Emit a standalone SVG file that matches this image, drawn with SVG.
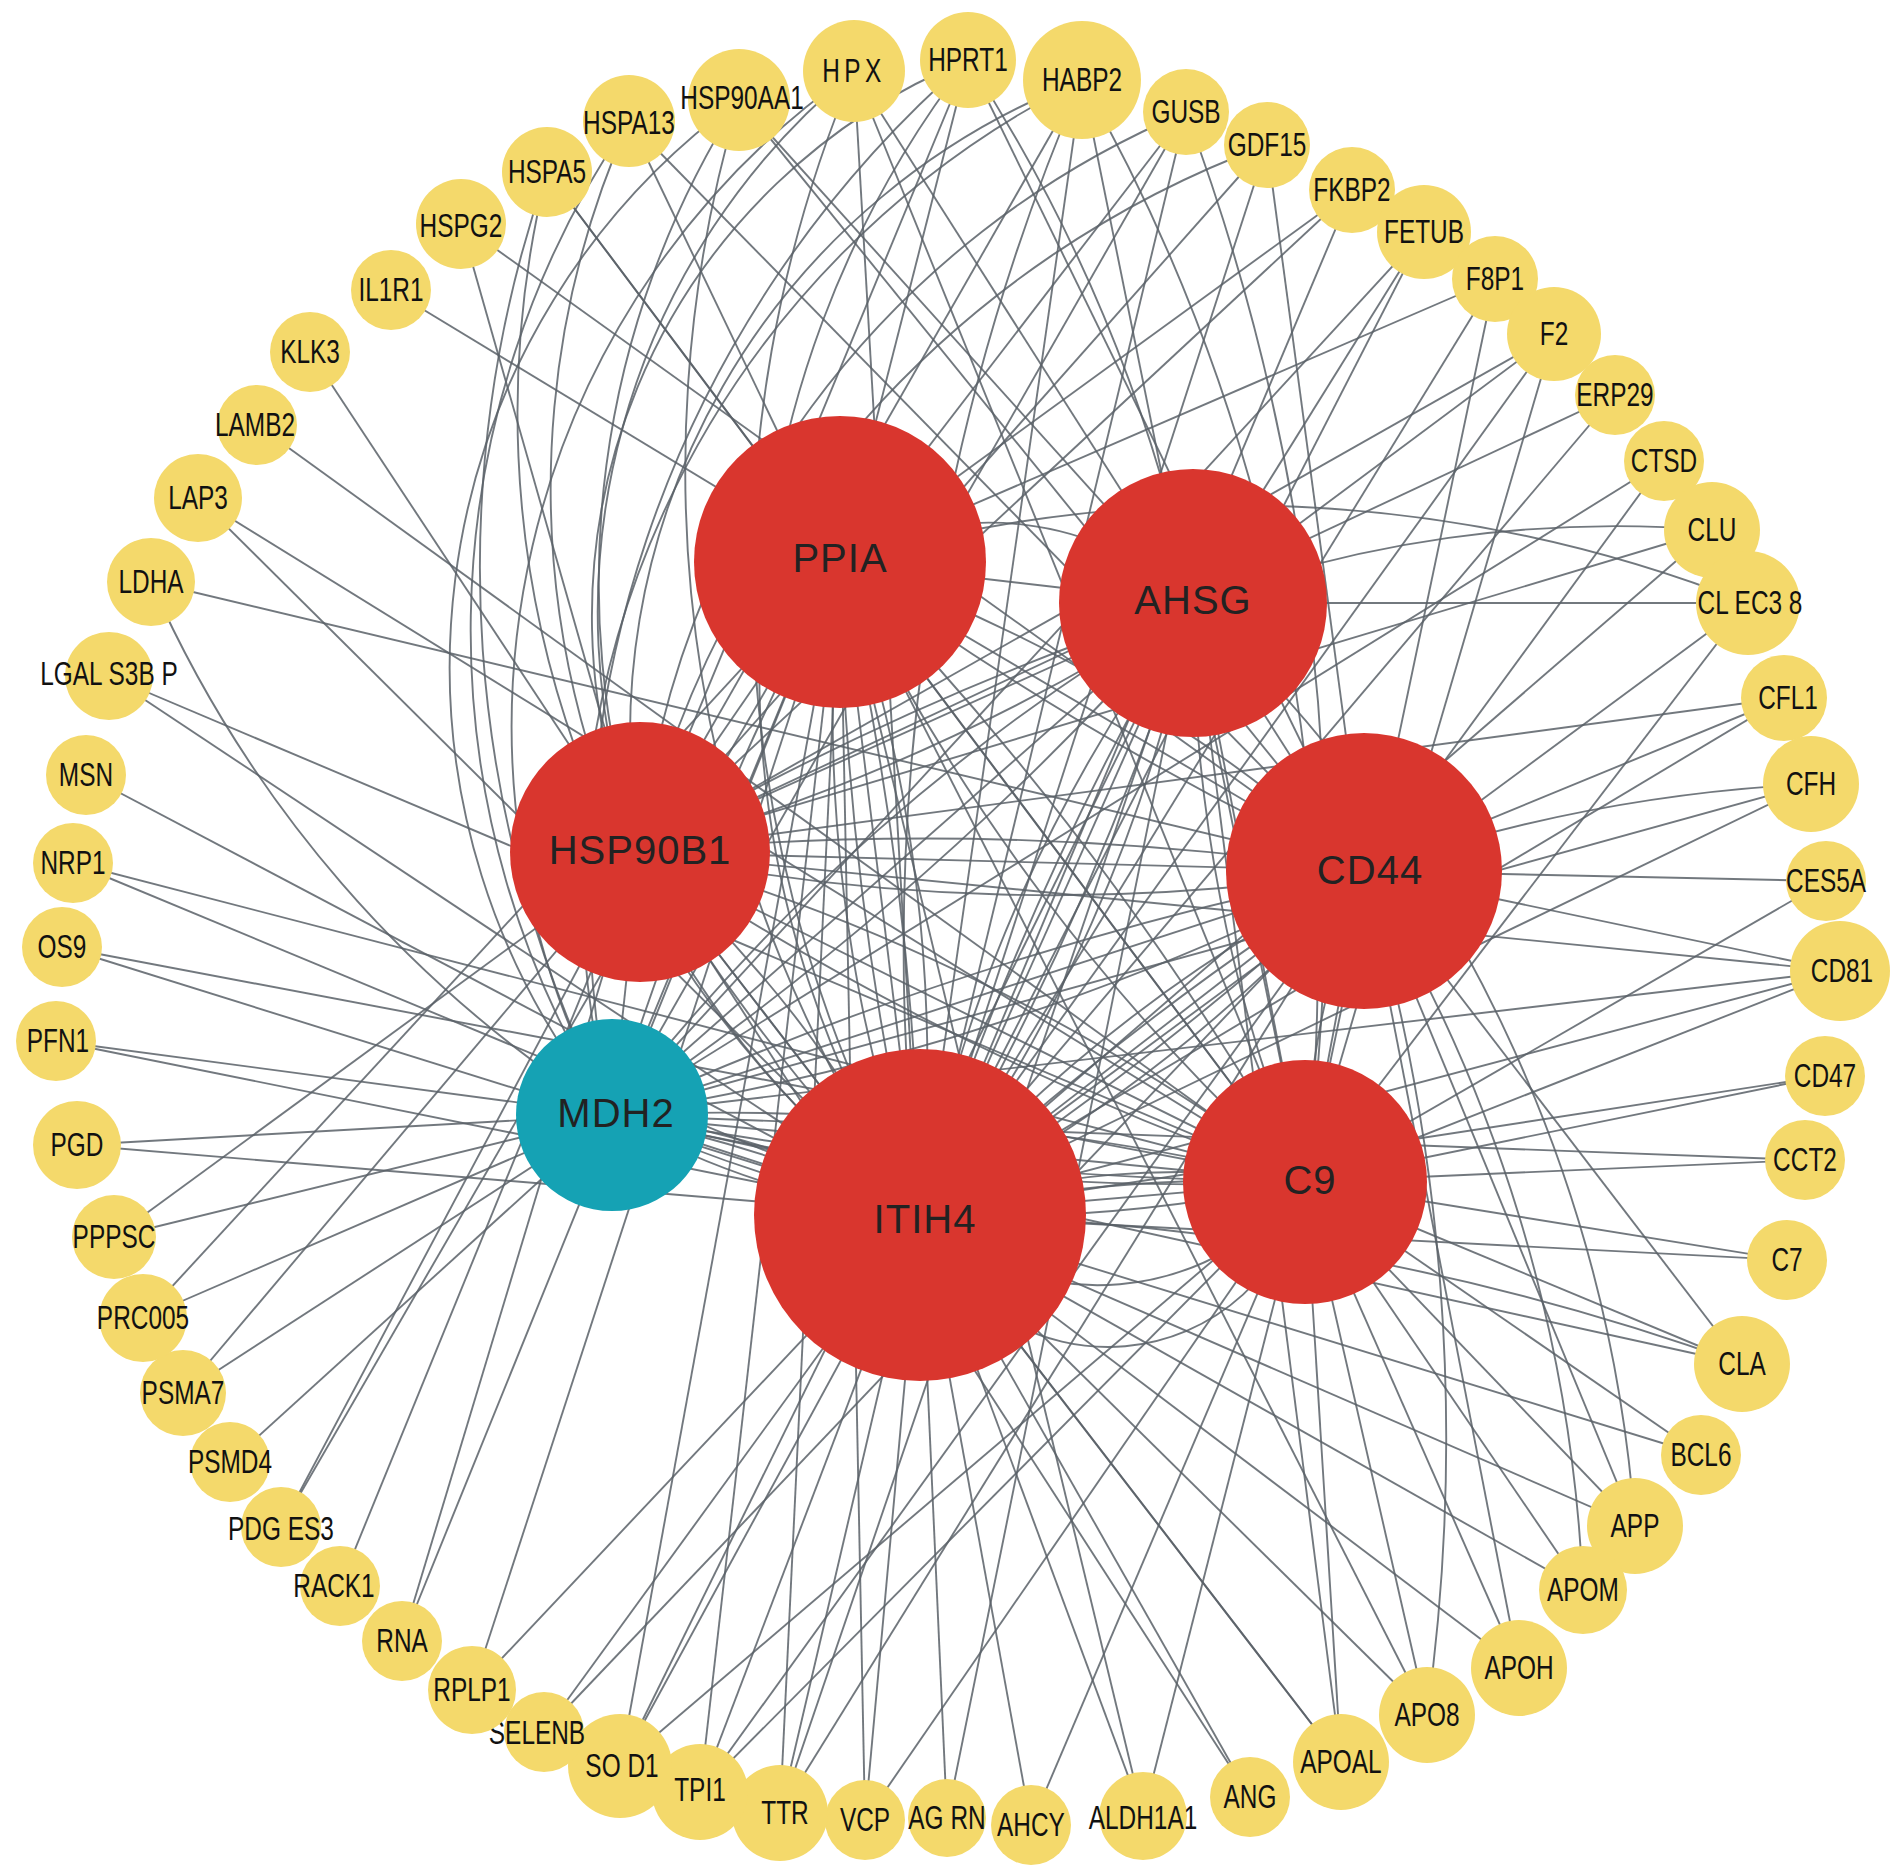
<svg xmlns="http://www.w3.org/2000/svg" width="1896" height="1871" viewBox="0 0 1896 1871">
<style>
.e{fill:none;stroke:#596067;stroke-width:1.9;stroke-opacity:0.85}
.y{fill:#F4D96B}
.r{fill:#D9362E}
.t{fill:#15A2B4}
.s{font-family:"Liberation Sans",Arial,sans-serif;font-size:33px;fill:#111;text-anchor:middle;dominant-baseline:central;transform-box:fill-box;transform-origin:center;transform:scaleX(0.74)}
.b{font-family:"Liberation Sans",Arial,sans-serif;font-size:40px;fill:#222;text-anchor:middle;dominant-baseline:central;letter-spacing:1px}
</style>
<rect width="1896" height="1871" fill="#fff"/>
<g id="connectors">
<path class="e" d="M739 100 A700 700 0 0 0 612 1115"/>
<path class="e" d="M854 71 A800 800 0 0 0 612 1115"/>
<path class="e" d="M968 60 A600 600 0 0 0 640 852"/>
<path class="e" d="M1082 80 A700 700 0 0 0 640 852"/>
<path class="e" d="M629 121 A900 900 0 0 0 920 1215"/>
<path class="e" d="M854 71 A700 700 0 0 0 640 852"/>
<path class="e" d="M739 100 A900 900 0 0 0 640 852"/>
<path class="e" d="M1082 80 A900 900 0 0 0 612 1115"/>
<path class="e" d="M1186 112 A900 900 0 0 0 640 852"/>
<path class="e" d="M968 60 A1000 1000 0 0 0 920 1215"/>
<path class="e" d="M547 172 A1000 1000 0 0 0 920 1215"/>
<path class="e" d="M968 60 A1100 1100 0 0 0 612 1115"/>
<path class="e" d="M1267 145 A1000 1000 0 0 0 640 852"/>
<path class="e" d="M629 121 A900 900 0 0 0 612 1115"/>
<path class="e" d="M547 172 A1200 1200 0 0 0 612 1115"/>
<path class="e" d="M854 71 A1300 1300 0 0 0 920 1215"/>
<path class="e" d="M739 100 A1300 1300 0 0 0 920 1215"/>
<path class="e" d="M1082 80 A1800 1800 0 0 1 1305 1182"/>
<path class="e" d="M1186 112 A2200 2200 0 0 1 1305 1182"/>
<path class="e" d="M968 60 A1600 1600 0 0 1 1193 603"/>
<path class="e" d="M1082 80 A2200 2200 0 0 0 920 1215"/>
<path class="e" d="M461 224 L640 852"/>
<path class="e" d="M461 224 L1364 871"/>
<path class="e" d="M547 172 L840 562"/>
<path class="e" d="M547 172 L1305 1182"/>
<path class="e" d="M629 121 L840 562"/>
<path class="e" d="M629 121 L1364 871"/>
<path class="e" d="M739 100 L1364 871"/>
<path class="e" d="M739 100 L1193 603"/>
<path class="e" d="M854 71 L920 1215"/>
<path class="e" d="M854 71 L1193 603"/>
<path class="e" d="M854 71 L1305 1182"/>
<path class="e" d="M968 60 L840 562"/>
<path class="e" d="M968 60 L1364 871"/>
<path class="e" d="M968 60 L640 852"/>
<path class="e" d="M1082 80 L920 1215"/>
<path class="e" d="M1082 80 L640 852"/>
<path class="e" d="M1082 80 L1305 1182"/>
<path class="e" d="M1186 112 L920 1215"/>
<path class="e" d="M1186 112 L840 562"/>
<path class="e" d="M1186 112 L612 1115"/>
<path class="e" d="M1267 145 L920 1215"/>
<path class="e" d="M1267 145 L640 852"/>
<path class="e" d="M1267 145 L1364 871"/>
<path class="e" d="M1352 190 L840 562"/>
<path class="e" d="M1352 190 L640 852"/>
<path class="e" d="M1352 190 L920 1215"/>
<path class="e" d="M1424 232 L1193 603"/>
<path class="e" d="M1424 232 L920 1215"/>
<path class="e" d="M1424 232 L612 1115"/>
<path class="e" d="M1495 279 L920 1215"/>
<path class="e" d="M1495 279 L1305 1182"/>
<path class="e" d="M1495 279 L840 562"/>
<path class="e" d="M1554 334 L920 1215"/>
<path class="e" d="M1554 334 L1305 1182"/>
<path class="e" d="M1554 334 L1193 603"/>
<path class="e" d="M1554 334 L640 852"/>
<path class="e" d="M1615 395 L640 852"/>
<path class="e" d="M1615 395 L920 1215"/>
<path class="e" d="M1664 461 L612 1115"/>
<path class="e" d="M1664 461 L1364 871"/>
<path class="e" d="M1712 530 A1200 1200 0 0 0 1193 603"/>
<path class="e" d="M1712 530 L920 1215"/>
<path class="e" d="M1712 530 L640 852"/>
<path class="e" d="M1748 603 L1193 603"/>
<path class="e" d="M1748 603 L920 1215"/>
<path class="e" d="M1748 603 A1400 1400 0 0 0 840 562"/>
<path class="e" d="M1748 603 L1305 1182"/>
<path class="e" d="M1784 698 L1364 871"/>
<path class="e" d="M1784 698 L920 1215"/>
<path class="e" d="M1784 698 L640 852"/>
<path class="e" d="M1811 784 A1600 1600 0 0 0 1364 871"/>
<path class="e" d="M1811 784 L920 1215"/>
<path class="e" d="M1811 784 L612 1115"/>
<path class="e" d="M1826 881 L1364 871"/>
<path class="e" d="M1826 881 L1305 1182"/>
<path class="e" d="M1840 971 L1305 1182"/>
<path class="e" d="M1840 971 L920 1215"/>
<path class="e" d="M1840 971 L1364 871"/>
<path class="e" d="M1840 971 L612 1115"/>
<path class="e" d="M1840 971 L640 852"/>
<path class="e" d="M1825 1076 L1305 1182"/>
<path class="e" d="M1825 1076 L920 1215"/>
<path class="e" d="M1805 1160 L1305 1182"/>
<path class="e" d="M1805 1160 L612 1115"/>
<path class="e" d="M1787 1260 L1305 1182"/>
<path class="e" d="M1787 1260 L920 1215"/>
<path class="e" d="M1742 1364 L1305 1182"/>
<path class="e" d="M1742 1364 A2500 2500 0 0 0 920 1215"/>
<path class="e" d="M1742 1364 L612 1115"/>
<path class="e" d="M1742 1364 L1364 871"/>
<path class="e" d="M1701 1455 L1305 1182"/>
<path class="e" d="M1701 1455 L920 1215"/>
<path class="e" d="M1635 1526 L1305 1182"/>
<path class="e" d="M1635 1526 L920 1215"/>
<path class="e" d="M1635 1526 A1400 1400 0 0 0 1193 603"/>
<path class="e" d="M1635 1526 L1364 871"/>
<path class="e" d="M1583 1590 L1305 1182"/>
<path class="e" d="M1583 1590 A1500 1500 0 0 0 1364 871"/>
<path class="e" d="M1583 1590 L920 1215"/>
<path class="e" d="M1519 1668 L1305 1182"/>
<path class="e" d="M1519 1668 L1364 871"/>
<path class="e" d="M1519 1668 L920 1215"/>
<path class="e" d="M1427 1715 L1305 1182"/>
<path class="e" d="M1427 1715 L920 1215"/>
<path class="e" d="M1427 1715 A2000 2000 0 0 0 1364 871"/>
<path class="e" d="M1427 1715 L840 562"/>
<path class="e" d="M1341 1762 L1305 1182"/>
<path class="e" d="M1341 1762 L920 1215"/>
<path class="e" d="M1341 1762 L1193 603"/>
<path class="e" d="M1341 1762 L640 852"/>
<path class="e" d="M1250 1797 L920 1215"/>
<path class="e" d="M1250 1797 L640 852"/>
<path class="e" d="M1143 1816 L920 1215"/>
<path class="e" d="M1143 1816 L1305 1182"/>
<path class="e" d="M1143 1816 L840 562"/>
<path class="e" d="M1031 1825 L920 1215"/>
<path class="e" d="M1031 1825 L1305 1182"/>
<path class="e" d="M947 1818 L920 1215"/>
<path class="e" d="M947 1818 L1193 603"/>
<path class="e" d="M865 1820 L920 1215"/>
<path class="e" d="M865 1820 L1305 1182"/>
<path class="e" d="M865 1820 L840 562"/>
<path class="e" d="M780 1813 L840 562"/>
<path class="e" d="M780 1813 L920 1215"/>
<path class="e" d="M780 1813 L1193 603"/>
<path class="e" d="M780 1813 L1364 871"/>
<path class="e" d="M700 1792 L920 1215"/>
<path class="e" d="M700 1792 L840 562"/>
<path class="e" d="M700 1792 L1364 871"/>
<path class="e" d="M700 1792 L1305 1182"/>
<path class="e" d="M620 1766 L920 1215"/>
<path class="e" d="M620 1766 L1305 1182"/>
<path class="e" d="M620 1766 L1193 603"/>
<path class="e" d="M620 1766 L840 562"/>
<path class="e" d="M544 1732 L920 1215"/>
<path class="e" d="M544 1732 L1364 871"/>
<path class="e" d="M472 1690 L920 1215"/>
<path class="e" d="M472 1690 L840 562"/>
<path class="e" d="M402 1641 L840 562"/>
<path class="e" d="M402 1641 L640 852"/>
<path class="e" d="M340 1586 L640 852"/>
<path class="e" d="M281 1527 L640 852"/>
<path class="e" d="M281 1527 L840 562"/>
<path class="e" d="M230 1462 L612 1115"/>
<path class="e" d="M183 1393 L612 1115"/>
<path class="e" d="M183 1393 L640 852"/>
<path class="e" d="M143 1318 L612 1115"/>
<path class="e" d="M143 1318 L840 562"/>
<path class="e" d="M114 1237 L612 1115"/>
<path class="e" d="M114 1237 L640 852"/>
<path class="e" d="M77 1145 L612 1115"/>
<path class="e" d="M77 1145 L920 1215"/>
<path class="e" d="M56 1041 L612 1115"/>
<path class="e" d="M56 1041 L920 1215"/>
<path class="e" d="M62 947 L920 1215"/>
<path class="e" d="M62 947 L1305 1182"/>
<path class="e" d="M73 863 L1305 1182"/>
<path class="e" d="M73 863 L920 1215"/>
<path class="e" d="M86 775 L920 1215"/>
<path class="e" d="M109 676 L920 1215"/>
<path class="e" d="M109 676 L1305 1182"/>
<path class="e" d="M151 582 L1364 871"/>
<path class="e" d="M151 582 A1200 1200 0 0 0 612 1115"/>
<path class="e" d="M198 498 L920 1215"/>
<path class="e" d="M198 498 L1305 1182"/>
<path class="e" d="M257 425 L1305 1182"/>
<path class="e" d="M310 352 L640 852"/>
<path class="e" d="M391 290 L840 562"/>
<path class="e" d="M840 562 L1193 603"/>
<path class="e" d="M840 562 A300 300 0 0 1 1193 603"/>
<path class="e" d="M840 562 L640 852"/>
<path class="e" d="M840 562 L1364 871"/>
<path class="e" d="M840 562 A1500 1500 0 0 1 1364 871"/>
<path class="e" d="M840 562 A3000 3000 0 0 0 1364 871"/>
<path class="e" d="M840 562 L920 1215"/>
<path class="e" d="M840 562 A1500 1500 0 0 0 920 1215"/>
<path class="e" d="M840 562 A1500 1500 0 0 1 920 1215"/>
<path class="e" d="M840 562 A3000 3000 0 0 0 920 1215"/>
<path class="e" d="M840 562 A3000 3000 0 0 1 920 1215"/>
<path class="e" d="M840 562 L1305 1182"/>
<path class="e" d="M840 562 A2000 2000 0 0 0 1305 1182"/>
<path class="e" d="M840 562 A3000 3000 0 0 1 1305 1182"/>
<path class="e" d="M840 562 L612 1115"/>
<path class="e" d="M840 562 A3000 3000 0 0 0 612 1115"/>
<path class="e" d="M1193 603 L1364 871"/>
<path class="e" d="M1193 603 L920 1215"/>
<path class="e" d="M1193 603 A1500 1500 0 0 0 920 1215"/>
<path class="e" d="M1193 603 A1500 1500 0 0 1 920 1215"/>
<path class="e" d="M1193 603 A3000 3000 0 0 0 920 1215"/>
<path class="e" d="M1193 603 A3000 3000 0 0 1 920 1215"/>
<path class="e" d="M1193 603 L1305 1182"/>
<path class="e" d="M1193 603 A1500 1500 0 0 0 1305 1182"/>
<path class="e" d="M1193 603 L640 852"/>
<path class="e" d="M1193 603 A2000 2000 0 0 1 640 852"/>
<path class="e" d="M1193 603 A3000 3000 0 0 0 640 852"/>
<path class="e" d="M1193 603 L612 1115"/>
<path class="e" d="M1193 603 A2000 2000 0 0 0 612 1115"/>
<path class="e" d="M1193 603 A3000 3000 0 0 1 612 1115"/>
<path class="e" d="M640 852 L1364 871"/>
<path class="e" d="M640 852 A2000 2000 0 0 0 1364 871"/>
<path class="e" d="M640 852 A3000 3000 0 0 1 1364 871"/>
<path class="e" d="M640 852 L920 1215"/>
<path class="e" d="M640 852 A1200 1200 0 0 1 920 1215"/>
<path class="e" d="M640 852 A2000 2000 0 0 0 920 1215"/>
<path class="e" d="M640 852 L612 1115"/>
<path class="e" d="M640 852 L1305 1182"/>
<path class="e" d="M640 852 A2000 2000 0 0 1 1305 1182"/>
<path class="e" d="M640 852 A3000 3000 0 0 0 1305 1182"/>
<path class="e" d="M1364 871 L920 1215"/>
<path class="e" d="M1364 871 A1500 1500 0 0 0 920 1215"/>
<path class="e" d="M1364 871 A1500 1500 0 0 1 920 1215"/>
<path class="e" d="M1364 871 A3000 3000 0 0 0 920 1215"/>
<path class="e" d="M1364 871 A3000 3000 0 0 1 920 1215"/>
<path class="e" d="M1364 871 L1305 1182"/>
<path class="e" d="M1364 871 A900 900 0 0 0 1305 1182"/>
<path class="e" d="M1364 871 L612 1115"/>
<path class="e" d="M1364 871 A2500 2500 0 0 1 612 1115"/>
<path class="e" d="M1364 871 A3500 3500 0 0 0 612 1115"/>
<path class="e" d="M920 1215 L1305 1182"/>
<path class="e" d="M920 1215 A1500 1500 0 0 1 1305 1182"/>
<path class="e" d="M920 1215 A1500 1500 0 0 0 1305 1182"/>
<path class="e" d="M920 1215 A800 800 0 0 1 1305 1182"/>
<path class="e" d="M920 1215 A260 260 0 0 0 1305 1182"/>
<path class="e" d="M920 1215 A200 200 0 0 0 1305 1182"/>
<path class="e" d="M920 1215 L612 1115"/>
<path class="e" d="M920 1215 A800 800 0 0 1 612 1115"/>
<path class="e" d="M920 1215 A800 800 0 0 0 612 1115"/>
<path class="e" d="M920 1215 A1500 1500 0 0 1 612 1115"/>
<path class="e" d="M920 1215 A1500 1500 0 0 0 612 1115"/>
<path class="e" d="M1305 1182 L612 1115"/>
<path class="e" d="M1305 1182 A2500 2500 0 0 1 612 1115"/>
<path class="e" d="M1305 1182 A2500 2500 0 0 0 612 1115"/>
<path class="e" d="M1305 1182 A4000 4000 0 0 1 612 1115"/>
</g>
<g id="node-PPIA"><circle class="r" cx="840" cy="562" r="146"/><text class="b" x="840" y="558">PPIA</text></g>
<g id="node-AHSG"><circle class="r" cx="1193" cy="603" r="134"/><text class="b" x="1193" y="600">AHSG</text></g>
<g id="node-HSP90B1"><circle class="r" cx="640" cy="852" r="130"/><text class="b" x="640" y="850">HSP90B1</text></g>
<g id="node-CD44"><circle class="r" cx="1364" cy="871" r="138"/><text class="b" x="1370" y="870">CD44</text></g>
<g id="node-MDH2"><circle class="t" cx="612" cy="1115" r="96"/><text class="b" x="616" y="1113">MDH2</text></g>
<g id="node-ITIH4"><circle class="r" cx="920" cy="1215" r="166"/><text class="b" x="925" y="1219">ITIH4</text></g>
<g id="node-C9"><circle class="r" cx="1305" cy="1182" r="122"/><text class="b" x="1310" y="1180">C9</text></g>
<g id="node-HPX"><circle class="y" cx="854" cy="71" r="51"/><text class="s" x="854" y="71" letter-spacing="6">HPX</text></g>
<g id="node-HPRT1"><circle class="y" cx="968" cy="60" r="48"/><text class="s" x="968" y="60">HPRT1</text></g>
<g id="node-HABP2"><circle class="y" cx="1082" cy="80" r="59"/><text class="s" x="1082" y="80">HABP2</text></g>
<g id="node-GUSB"><circle class="y" cx="1186" cy="112" r="43"/><text class="s" x="1186" y="112">GUSB</text></g>
<g id="node-GDF15"><circle class="y" cx="1267" cy="145" r="43"/><text class="s" x="1267" y="145">GDF15</text></g>
<g id="node-FKBP2"><circle class="y" cx="1352" cy="190" r="43"/><text class="s" x="1352" y="190">FKBP2</text></g>
<g id="node-FETUB"><circle class="y" cx="1424" cy="232" r="47"/><text class="s" x="1424" y="232">FETUB</text></g>
<g id="node-F8P1"><circle class="y" cx="1495" cy="279" r="43"/><text class="s" x="1495" y="279">F8P1</text></g>
<g id="node-F2"><circle class="y" cx="1554" cy="334" r="47"/><text class="s" x="1554" y="334">F2</text></g>
<g id="node-ERP29"><circle class="y" cx="1615" cy="395" r="40"/><text class="s" x="1615" y="395">ERP29</text></g>
<g id="node-CTSD"><circle class="y" cx="1664" cy="461" r="40"/><text class="s" x="1664" y="461">CTSD</text></g>
<g id="node-CLU"><circle class="y" cx="1712" cy="530" r="48"/><text class="s" x="1712" y="530">CLU</text></g>
<g id="node-CLEC38"><circle class="y" cx="1748" cy="603" r="52"/><text class="s" x="1750" y="603">CL EC3 8</text></g>
<g id="node-CFL1"><circle class="y" cx="1784" cy="698" r="43"/><text class="s" x="1788" y="698">CFL1</text></g>
<g id="node-CFH"><circle class="y" cx="1811" cy="784" r="48"/><text class="s" x="1811" y="784">CFH</text></g>
<g id="node-CES5A"><circle class="y" cx="1826" cy="881" r="40"/><text class="s" x="1826" y="881">CES5A</text></g>
<g id="node-CD81"><circle class="y" cx="1840" cy="971" r="50"/><text class="s" x="1842" y="971">CD81</text></g>
<g id="node-CD47"><circle class="y" cx="1825" cy="1076" r="40"/><text class="s" x="1825" y="1076">CD47</text></g>
<g id="node-CCT2"><circle class="y" cx="1805" cy="1160" r="40"/><text class="s" x="1805" y="1160">CCT2</text></g>
<g id="node-C7"><circle class="y" cx="1787" cy="1260" r="40"/><text class="s" x="1787" y="1260">C7</text></g>
<g id="node-CLA"><circle class="y" cx="1742" cy="1364" r="48"/><text class="s" x="1742" y="1364">CLA</text></g>
<g id="node-BCL6"><circle class="y" cx="1701" cy="1455" r="40"/><text class="s" x="1701" y="1455">BCL6</text></g>
<g id="node-APP"><circle class="y" cx="1635" cy="1526" r="48"/><text class="s" x="1635" y="1526">APP</text></g>
<g id="node-APOM"><circle class="y" cx="1583" cy="1590" r="44"/><text class="s" x="1583" y="1590">APOM</text></g>
<g id="node-APOH"><circle class="y" cx="1519" cy="1668" r="48"/><text class="s" x="1519" y="1668">APOH</text></g>
<g id="node-APO8"><circle class="y" cx="1427" cy="1715" r="48"/><text class="s" x="1427" y="1715">APO8</text></g>
<g id="node-APOAL"><circle class="y" cx="1341" cy="1762" r="48"/><text class="s" x="1341" y="1762">APOAL</text></g>
<g id="node-ANG"><circle class="y" cx="1250" cy="1797" r="40"/><text class="s" x="1250" y="1797">ANG</text></g>
<g id="node-ALDH1A1"><circle class="y" cx="1143" cy="1816" r="44"/><text class="s" x="1143" y="1818">ALDH1A1</text></g>
<g id="node-AHCY"><circle class="y" cx="1031" cy="1825" r="40"/><text class="s" x="1031" y="1825">AHCY</text></g>
<g id="node-AGRN"><circle class="y" cx="947" cy="1818" r="39"/><text class="s" x="947" y="1818">AG RN</text></g>
<g id="node-VCP"><circle class="y" cx="865" cy="1820" r="40"/><text class="s" x="865" y="1820">VCP</text></g>
<g id="node-TTR"><circle class="y" cx="780" cy="1813" r="48"/><text class="s" x="785" y="1813">TTR</text></g>
<g id="node-TPI1"><circle class="y" cx="700" cy="1792" r="48"/><text class="s" x="700" y="1790">TPI1</text></g>
<g id="node-SOD1"><circle class="y" cx="620" cy="1766" r="52"/><text class="s" x="622" y="1766">SO D1</text></g>
<g id="node-SELENB"><circle class="y" cx="544" cy="1732" r="40"/><text class="s" x="537" y="1733">SELENB</text></g>
<g id="node-RPLP1"><circle class="y" cx="472" cy="1690" r="44"/><text class="s" x="472" y="1690">RPLP1</text></g>
<g id="node-RNA"><circle class="y" cx="402" cy="1641" r="40"/><text class="s" x="402" y="1641">RNA</text></g>
<g id="node-RACK1"><circle class="y" cx="340" cy="1586" r="40"/><text class="s" x="334" y="1586">RACK1</text></g>
<g id="node-PDGES3"><circle class="y" cx="281" cy="1527" r="40"/><text class="s" x="281" y="1529">PDG ES3</text></g>
<g id="node-PSMD4"><circle class="y" cx="230" cy="1462" r="40"/><text class="s" x="230" y="1462">PSMD4</text></g>
<g id="node-PSMA7"><circle class="y" cx="183" cy="1393" r="43"/><text class="s" x="183" y="1393">PSMA7</text></g>
<g id="node-PRC005"><circle class="y" cx="143" cy="1318" r="44"/><text class="s" x="143" y="1318">PRC005</text></g>
<g id="node-PPPSC"><circle class="y" cx="114" cy="1237" r="42"/><text class="s" x="114" y="1237">PPPSC</text></g>
<g id="node-PGD"><circle class="y" cx="77" cy="1145" r="44"/><text class="s" x="77" y="1145">PGD</text></g>
<g id="node-PFN1"><circle class="y" cx="56" cy="1041" r="40"/><text class="s" x="58" y="1041">PFN1</text></g>
<g id="node-OS9"><circle class="y" cx="62" cy="947" r="40"/><text class="s" x="62" y="947">OS9</text></g>
<g id="node-NRP1"><circle class="y" cx="73" cy="863" r="40"/><text class="s" x="73" y="863">NRP1</text></g>
<g id="node-MSN"><circle class="y" cx="86" cy="775" r="40"/><text class="s" x="86" y="775">MSN</text></g>
<g id="node-LGALS3BP"><circle class="y" cx="109" cy="676" r="44"/><text class="s" x="109" y="674">LGAL S3B P</text></g>
<g id="node-LDHA"><circle class="y" cx="151" cy="582" r="44"/><text class="s" x="151" y="582">LDHA</text></g>
<g id="node-LAP3"><circle class="y" cx="198" cy="498" r="44"/><text class="s" x="198" y="498">LAP3</text></g>
<g id="node-LAMB2"><circle class="y" cx="257" cy="425" r="40"/><text class="s" x="255" y="425">LAMB2</text></g>
<g id="node-KLK3"><circle class="y" cx="310" cy="352" r="40"/><text class="s" x="310" y="352">KLK3</text></g>
<g id="node-IL1R1"><circle class="y" cx="391" cy="290" r="40"/><text class="s" x="391" y="290">IL1R1</text></g>
<g id="node-HSPG2"><circle class="y" cx="461" cy="224" r="45"/><text class="s" x="461" y="226">HSPG2</text></g>
<g id="node-HSPA5"><circle class="y" cx="547" cy="172" r="45"/><text class="s" x="547" y="172">HSPA5</text></g>
<g id="node-HSPA13"><circle class="y" cx="629" cy="121" r="46"/><text class="s" x="629" y="123">HSPA13</text></g>
<g id="node-HSP90AA1"><circle class="y" cx="739" cy="100" r="51"/><text class="s" x="742" y="98">HSP90AA1</text></g>
</svg>
